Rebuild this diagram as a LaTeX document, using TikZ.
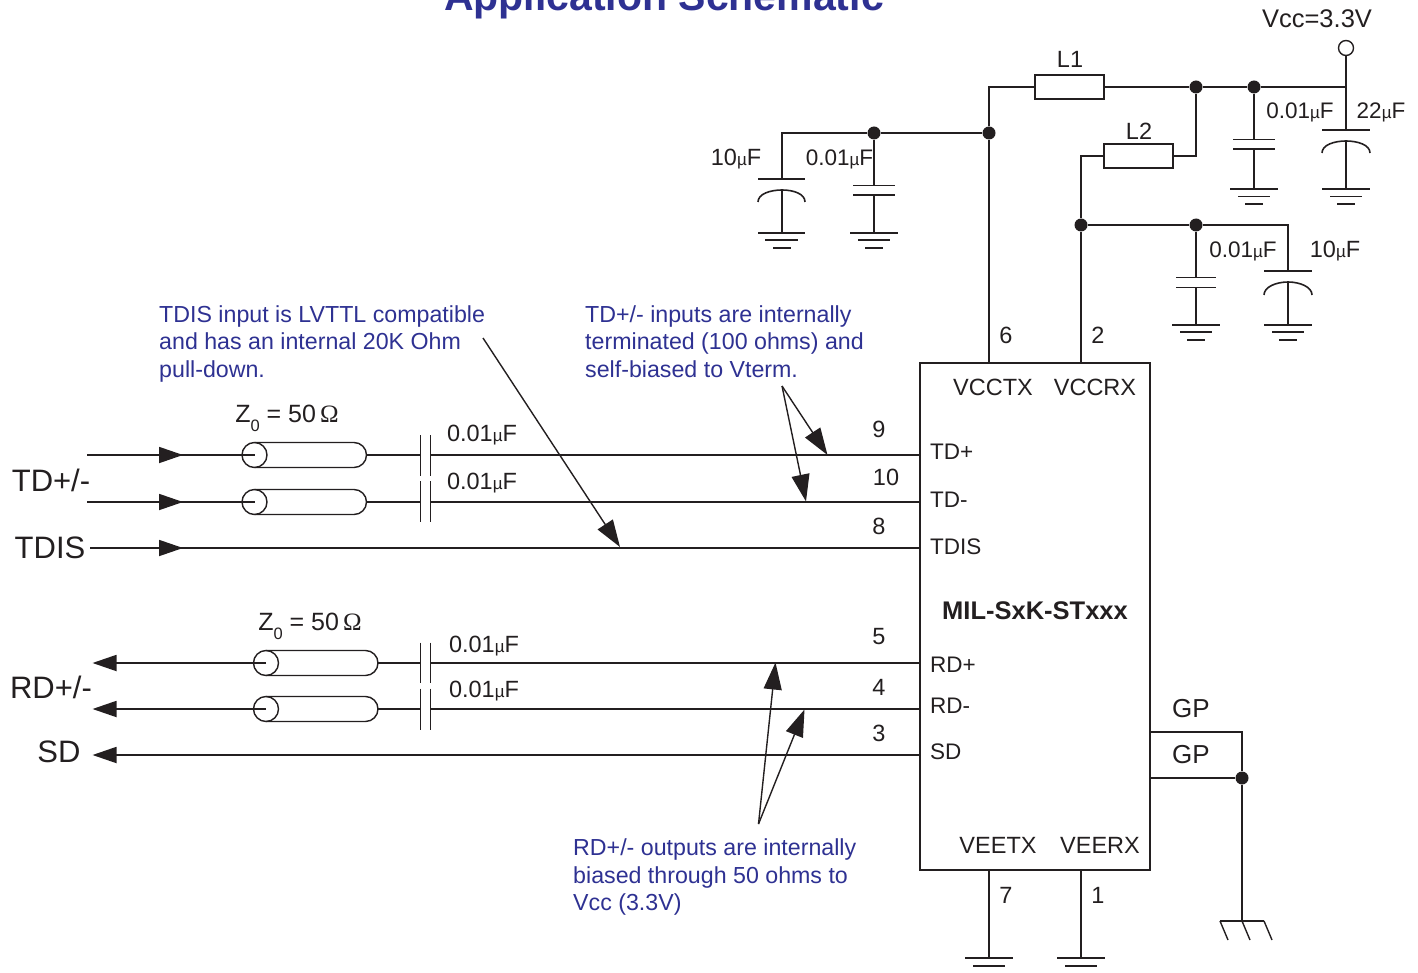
\documentclass[tikz,border=0pt]{standalone}
\usepackage{fontspec}
\setmainfont{Liberation Sans}
\newfontfamily\omegafont{Liberation Serif}
\usetikzlibrary{arrows.meta}
\definecolor{noteblue}{RGB}{46,49,146}
\definecolor{inkblack}{RGB}{35,31,32}
\newcommand{\uF}{{\fontsize{17}{17}\selectfont µ}F}
\newcommand{\zlabel}{Z\raisebox{-9pt}{\fontsize{16.5}{17}\selectfont 0} = 50\,{\omegafont Ω}}
\begin{document}
\begin{tikzpicture}[x=1pt,y=1pt,yscale=-1,xscale=1,
  wire/.style={line width=1.8pt,color=inkblack},
  thin wire/.style={line width=1.4pt,color=inkblack},
  bar/.style={line width=1.6pt,color=inkblack},
  feed/.style={wire,-{Triangle[length=24pt,width=16pt]}},
  callout/.style={thin wire,-{Triangle[length=27pt,width=18pt]}},
  junction/.style={circle,fill=inkblack,inner sep=0pt,minimum size=13pt},
  terminal/.style={circle,draw=inkblack,line width=1.4pt,fill=white,inner sep=0pt,minimum size=15pt},
  coax/.style={circle,draw=inkblack,line width=1.4pt,inner sep=0pt,minimum size=25pt},
  inductor/.style={rectangle,draw=inkblack,line width=1.6pt,fill=white,inner sep=0pt,minimum width=69pt,minimum height=23.5pt},
  chip/.style={rectangle,draw=inkblack,line width=1.8pt,inner sep=0pt,minimum width=230pt,minimum height=507pt},
  lbl/.style={anchor=base,inner sep=0pt,color=inkblack,font=\fontsize{23.5}{27}\selectfont},
  pinlbl/.style={anchor=base west,inner sep=0pt,color=inkblack,font=\fontsize{22.5}{26}\selectfont},
  biglbl/.style={anchor=base,inner sep=0pt,color=inkblack,font=\fontsize{31}{34}\selectfont},
  note/.style={anchor=north west,inner sep=0pt,align=left,color=noteblue,font=\fontsize{23.2}{27.6}\selectfont},
  caplbl/.style={anchor=base,inner sep=0pt,color=inkblack,font=\fontsize{23.5}{27}\selectfont},
  captop/.style={anchor=base,inner sep=0pt,color=inkblack,font=\fontsize{22.5}{27}\selectfont},
  zlbl/.style={anchor=base,inner sep=0pt,color=inkblack,font=\fontsize{25}{27}\selectfont}]
\useasboundingbox (0,0) rectangle (1418,973);

% Title
\node [anchor=base,inner sep=0pt,color=noteblue,font=\fontsize{41}{44}\bfseries\selectfont] (title) at (664,11) {Application Schematic};

% Chip
\node [chip] (ic) at (1035,616.5) {};
\node [anchor=center,inner sep=0pt,color=inkblack,font=\fontsize{25.5}{28}\bfseries\selectfont] (partno) at (1035,611) {MIL-SxK-STxxx};
\node [lbl] (vcctx) at (993,395) {VCCTX};
\node [lbl] (vccrx) at (1095,395) {VCCRX};
\node [lbl] (veetx) at (998,853) {VEETX};
\node [lbl] (veerx) at (1100,853) {VEERX};
\node [pinlbl] (tdplbl) at (930,459) {TD+};
\node [pinlbl] (tdnlbl) at (930,507) {TD-};
\node [pinlbl] (tdislbl) at (930,554) {TDIS};
\node [pinlbl] (rdplbl) at (930,672) {RD+};
\node [pinlbl] (rdnlbl) at (930,713) {RD-};
\node [pinlbl] (sdlbl) at (930,759) {SD};

% Pin numbers
\node [lbl] (pin6) at (1006,344) {6};
\node [lbl] (pin2) at (1098,344) {2};
\node [lbl] (pin9) at (879,437) {9};
\node [lbl] (pin10) at (886,485) {10};
\node [lbl] (pin8) at (879,534) {8};
\node [lbl] (pin5) at (879,644) {5};
\node [lbl] (pin4) at (879,695) {4};
\node [lbl] (pin3) at (879,741) {3};
\node [lbl] (pin7) at (1006,903) {7};
\node [lbl] (pin1) at (1098,903) {1};

% Supply nodes
\node [terminal] (vcc) at (1346,48) {};
\node [anchor=base,inner sep=0pt,color=inkblack,font=\fontsize{25.5}{28}\selectfont] (vcclbl) at (1317,28) {Vcc=3.3V};
\node [inductor] (indA) at (1069.5,87) {};
\node [inductor] (indB) at (1138.5,156) {};
\node [lbl] (indAlbl) at (1070,68) {L1};
\node [lbl] (indBlbl) at (1139,140) {L2};
\node [junction] (jA) at (1196,87) {};
\node [junction] (jB) at (1254,87) {};
\node [junction] (jC) at (989,133) {};
\node [junction] (jD) at (874,133) {};
\node [junction] (jE) at (1081,225) {};
\node [junction] (jF) at (1196,225) {};
\coordinate (vccCorner) at (1346,87);
\coordinate (pinVcctx) at (989,363);
\coordinate (pinVccrx) at (1081,363);

% Straight Lines
\draw [wire] (pinVcctx) -- (jC) -- (989,87) -- (indA);
\draw [wire] (indA) -- (jA) -- (jB) -- (vccCorner);
\draw [wire] (vcc) -- (vccCorner) -- (1346,130);
\draw [wire] (jA) |- (indB);
\draw [wire] (pinVccrx) -- (jE) -- (1081,156) -- (indB);
\draw [wire] (jE) -- (jF) -- (1288,225) -- (1288,271);
\draw [wire] (jC) -- (jD) -- (782,133) -- (782,179);

% Shape: Capacitor 10uF
\draw [bar] (758,179) -- (805,179);
\draw [bar] (758,202) .. controls (758,194) and (770,190) .. (782,190) .. controls (794,190) and (805,194) .. (805,202);
\draw [wire] (782,190) -- (782,233);
\draw [bar] (758,233) -- (805,233) (765,240) -- (798,240) (773,248) -- (791,248);
\node [caplbl] (capAlbl) at (736,166) {10\uF};

% Shape: Capacitor 0.01uF
\draw [wire] (jD) -- (874,185.5);
\draw [bar] (853,185.5) -- (895,185.5) (853,195) -- (895,195);
\draw [wire] (874,195) -- (874,233);
\draw [bar] (850,233) -- (898,233) (858,240) -- (890,240) (865,248) -- (883,248);
\node [captop] (capBlbl) at (839.5,166) {0.01\uF};

% Shape: Capacitor 0.01uF
\draw [wire] (jB) -- (1254,139.5);
\draw [bar] (1233,139.5) -- (1275,139.5) (1233,149) -- (1275,149);
\draw [wire] (1254,149) -- (1254,189);
\draw [bar] (1230,189) -- (1278,189) (1238,196.5) -- (1270,196.5) (1245,204) -- (1263,204);
\node [captop] (capClbl) at (1300,119) {0.01\uF};

% Shape: Capacitor 22uF
\draw [bar] (1322,130) -- (1370,130);
\draw [bar] (1322,153) .. controls (1322,145) and (1334,141) .. (1346,141) .. controls (1358,141) and (1370,145) .. (1370,153);
\draw [wire] (1346,141) -- (1346,189);
\draw [bar] (1322,189) -- (1370,189) (1330,196.5) -- (1362,196.5) (1337,204) -- (1355,204);
\node [captop] (capDlbl) at (1381,119) {22\uF};

% Shape: Capacitor 0.01uF
\draw [wire] (jF) -- (1196,277.5);
\draw [bar] (1176,277.5) -- (1216,277.5) (1176,287.5) -- (1216,287.5);
\draw [wire] (1196,287.5) -- (1196,325);
\draw [bar] (1172,325) -- (1220,325) (1180,332) -- (1212,332) (1187,340) -- (1205,340);
\node [captop] (capElbl) at (1243,258) {0.01\uF};

% Shape: Capacitor 10uF
\draw [bar] (1264,271) -- (1312,271);
\draw [bar] (1264,295) .. controls (1264,287) and (1276,282) .. (1288,282) .. controls (1300,282) and (1312,287) .. (1312,295);
\draw [wire] (1288,282) -- (1288,325);
\draw [bar] (1264,325) -- (1312,325) (1272,332) -- (1304,332) (1279,340) -- (1297,340);
\node [caplbl] (capFlbl) at (1335,258) {10\uF};

% Transmit side
\coordinate (tdpIn) at (87,455);
\coordinate (tdpTip) at (183,455);
\coordinate (tdpPin) at (920,455);
\coordinate (tdnIn) at (87,502);
\coordinate (tdnTip) at (183,502);
\coordinate (tdnPin) at (920,502);
\coordinate (tdisIn) at (90,548);
\coordinate (tdisTip) at (183,548);
\coordinate (tdisPin) at (920,548);
\node [coax] (coaxTdp) at (254.5,455) {};
\node [coax] (coaxTdn) at (254.5,502) {};
\draw [thin wire] (254.5,442.5) -- (354,442.5) arc[start angle=-90,end angle=90,radius=12.5] -- (254.5,467.5);
\draw [thin wire] (254.5,489.5) -- (354,489.5) arc[start angle=-90,end angle=90,radius=12.5] -- (254.5,514.5);
\draw [wire] (tdpIn) -- (coaxTdp.center);
\draw [wire] (tdnIn) -- (coaxTdn.center);
\draw [feed] (tdpIn) -- (tdpTip);
\draw [feed] (tdnIn) -- (tdnTip);
\draw [wire] (tdisIn) -- (tdisPin);
\draw [feed] (tdisIn) -- (tdisTip);
\draw [wire] (366.5,455) -- (420.5,455) (430.5,455) -- (tdpPin);
\draw [wire] (366.5,502) -- (420.5,502) (430.5,502) -- (tdnPin);
\draw [thin wire] (420.5,435) -- (420.5,475.5) (430.5,435) -- (430.5,475.5);
\draw [thin wire] (420.5,481) -- (420.5,522) (430.5,481) -- (430.5,522);
\node [caplbl] (capTdplbl) at (482,441) {0.01\uF};
\node [caplbl] (capTdnlbl) at (482,489) {0.01\uF};
\node [zlbl] (zTd) at (287,422) {\zlabel};

% Receive side
\coordinate (rdpTip) at (92.5,663);
\coordinate (rdpPin) at (920,663);
\coordinate (rdnTip) at (92.5,709);
\coordinate (rdnPin) at (920,709);
\coordinate (sdTip) at (92.5,755);
\coordinate (sdPin) at (920,755);
\node [coax] (coaxRdp) at (266,663) {};
\node [coax] (coaxRdn) at (266,709) {};
\draw [thin wire] (266,650.5) -- (365.5,650.5) arc[start angle=-90,end angle=90,radius=12.5] -- (266,675.5);
\draw [thin wire] (266,696.5) -- (365.5,696.5) arc[start angle=-90,end angle=90,radius=12.5] -- (266,721.5);
\draw [feed] (coaxRdp.center) -- (rdpTip);
\draw [feed] (coaxRdn.center) -- (rdnTip);
\draw [feed] (sdPin) -- (sdTip);
\draw [wire] (378,663) -- (420.5,663) (430.5,663) -- (rdpPin);
\draw [wire] (378,709) -- (420.5,709) (430.5,709) -- (rdnPin);
\draw [thin wire] (420.5,642.5) -- (420.5,683) (430.5,642.5) -- (430.5,683);
\draw [thin wire] (420.5,688.5) -- (420.5,729.5) (430.5,688.5) -- (430.5,729.5);
\node [caplbl] (capRdplbl) at (484,652) {0.01\uF};
\node [caplbl] (capRdnlbl) at (484,697) {0.01\uF};
\node [zlbl] (zRd) at (310,630) {\zlabel};

% Signal names
\node [biglbl] (tdname) at (51,491) {TD+/-};
\node [biglbl] (tdisname) at (50,558) {TDIS};
\node [biglbl] (rdname) at (51,698) {RD+/-};
\node [biglbl] (sdname) at (59,762) {SD};

% Guard pins
\node [junction] (jG) at (1242,778) {};
\coordinate (gpTop) at (1242,732);
\coordinate (gpFoot) at (1242,921);
\draw [wire] (1150,732) -- (gpTop) -- (jG) -- (gpFoot);
\draw [wire] (1150,778) -- (jG);
\draw [bar] (1220,921) -- (1264,921);
\draw [thin wire] (1220,921) -- (1228,940) (1242,921) -- (1250,940) (1264,921) -- (1272,940);
\node [anchor=base,inner sep=0pt,color=inkblack,font=\fontsize{26}{28}\selectfont] (gpAlbl) at (1191,717) {GP};
\node [anchor=base,inner sep=0pt,color=inkblack,font=\fontsize{26}{28}\selectfont] (gpBlbl) at (1191,763) {GP};

% Bottom grounds
\draw [wire] (989,870) -- (989,958);
\draw [wire] (1081,870) -- (1081,958);
\draw [bar] (965,958) -- (1013,958) (973,966) -- (1005,966);
\draw [bar] (1057,958) -- (1105,958) (1065,966) -- (1097,966);

% Notes
\node [note] (noteTdis) at (159,305) {TDIS input is LVTTL compatible\\and has an internal 20K Ohm\\pull-down.};
\node [note] (noteTd) at (585,305) {TD+/- inputs are internally\\terminated (100 ohms) and\\self-biased to Vterm.};
\node [note] (noteRd) at (573,838.5) {RD+/- outputs are internally\\biased through 50 ohms to\\Vcc (3.3V)};

% Callout arrows
\coordinate (tdisFrom) at (483,338);
\coordinate (tdisTo) at (620,547);
\coordinate (tdFrom) at (782,386);
\coordinate (tdpTo) at (827.5,455);
\coordinate (tdnTo) at (806,501.5);
\coordinate (rdFrom) at (758.5,824);
\coordinate (rdpTo) at (775.5,662.5);
\coordinate (rdnTo) at (804.5,709.5);
\draw [callout] (tdisFrom) -- (tdisTo);
\draw [callout] (tdFrom) -- (tdpTo);
\draw [callout] (tdFrom) -- (tdnTo);
\draw [callout] (rdFrom) -- (rdpTo);
\draw [callout] (rdFrom) -- (rdnTo);

\end{tikzpicture}
\end{document}
